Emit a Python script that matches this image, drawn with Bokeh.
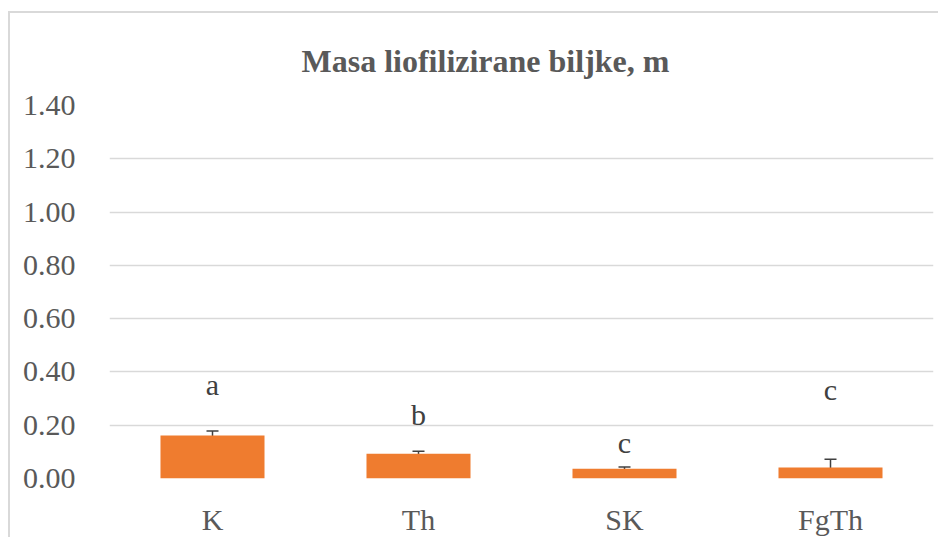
from bokeh.plotting import figure
from bokeh.models import ColumnDataSource, Whisker, TeeHead, Title, FixedTicker, CustomJSTickFormatter
from bokeh.core.properties import value
from bokeh.embed import file_html
from bokeh.resources import INLINE

categories = ["K", "Th", "SK", "FgTh"]
values = [0.161, 0.093, 0.037, 0.041]
errors = [0.017, 0.009, 0.006, 0.031]
letters = ["a", "b", "c", "c"]
letter_y = [0.352, 0.24, 0.136, 0.333]
y_ticks = [0.0, 0.2, 0.4, 0.6, 0.8, 1.0, 1.2, 1.4]

FONT = "Liberation Serif"
TXT = "#595959"

src = ColumnDataSource(dict(
    cat=categories, val=values,
    lo=[v - e for v, e in zip(values, errors)],
    hi=[v + e for v, e in zip(values, errors)],
    lab=letters, ly=letter_y,
))

p = figure(x_range=categories, y_range=(0, 1.4), width=930, height=526,
           output_backend="svg", toolbar_location=None,
           min_border_left=99, min_border_right=7, min_border_top=91, min_border_bottom=61)
p.styles = {"border-left": "2px solid #d9d9d9", "border-top": "2px solid #d9d9d9",
            "margin-left": "8px", "margin-top": "11px"}
p.outline_line_color = None
p.background_fill_color = "white"
p.border_fill_color = "white"

t = Title(text="Masa liofilizirane biljke, m", text_font=FONT, text_font_size="32px",
          text_font_style="bold", text_color=TXT, align="left", offset=192, standoff=54)
p.add_layout(t, "above")

p.vbar(x="cat", top="val", width=0.505, source=src, fill_color="#EF7C2F", line_color=None)

w = Whisker(base="cat", lower="lo", upper="hi", source=src, line_color="#404040", line_width=1.5,
            upper_head=TeeHead(size=12, line_color="#404040", line_width=1.5),
            lower_head=TeeHead(size=12, line_color="#404040", line_width=1.5))
p.add_layout(w)

p.text(x="cat", y="ly", text="lab", source=src, text_font=value(FONT), text_font_size="30px",
       text_color="#404040", text_align="center", text_baseline="alphabetic")

p.xgrid.grid_line_color = None
p.ygrid.grid_line_color = "#d9d9d9"
p.ygrid.grid_line_width = 1.5
p.yaxis.ticker = FixedTicker(ticks=y_ticks)
p.yaxis.formatter = CustomJSTickFormatter(code="return tick.toFixed(2);")

for ax in (p.xaxis[0], p.yaxis[0]):
    ax.axis_line_color = None
    ax.major_tick_line_color = None
    ax.minor_tick_line_color = None
    ax.major_label_text_font = FONT
    ax.major_label_text_font_size = "30px"
    ax.major_label_text_color = TXT
p.yaxis.major_label_standoff = 28
p.xaxis.major_label_standoff = 18

open("out.html", "w").write(file_html(p, INLINE))
